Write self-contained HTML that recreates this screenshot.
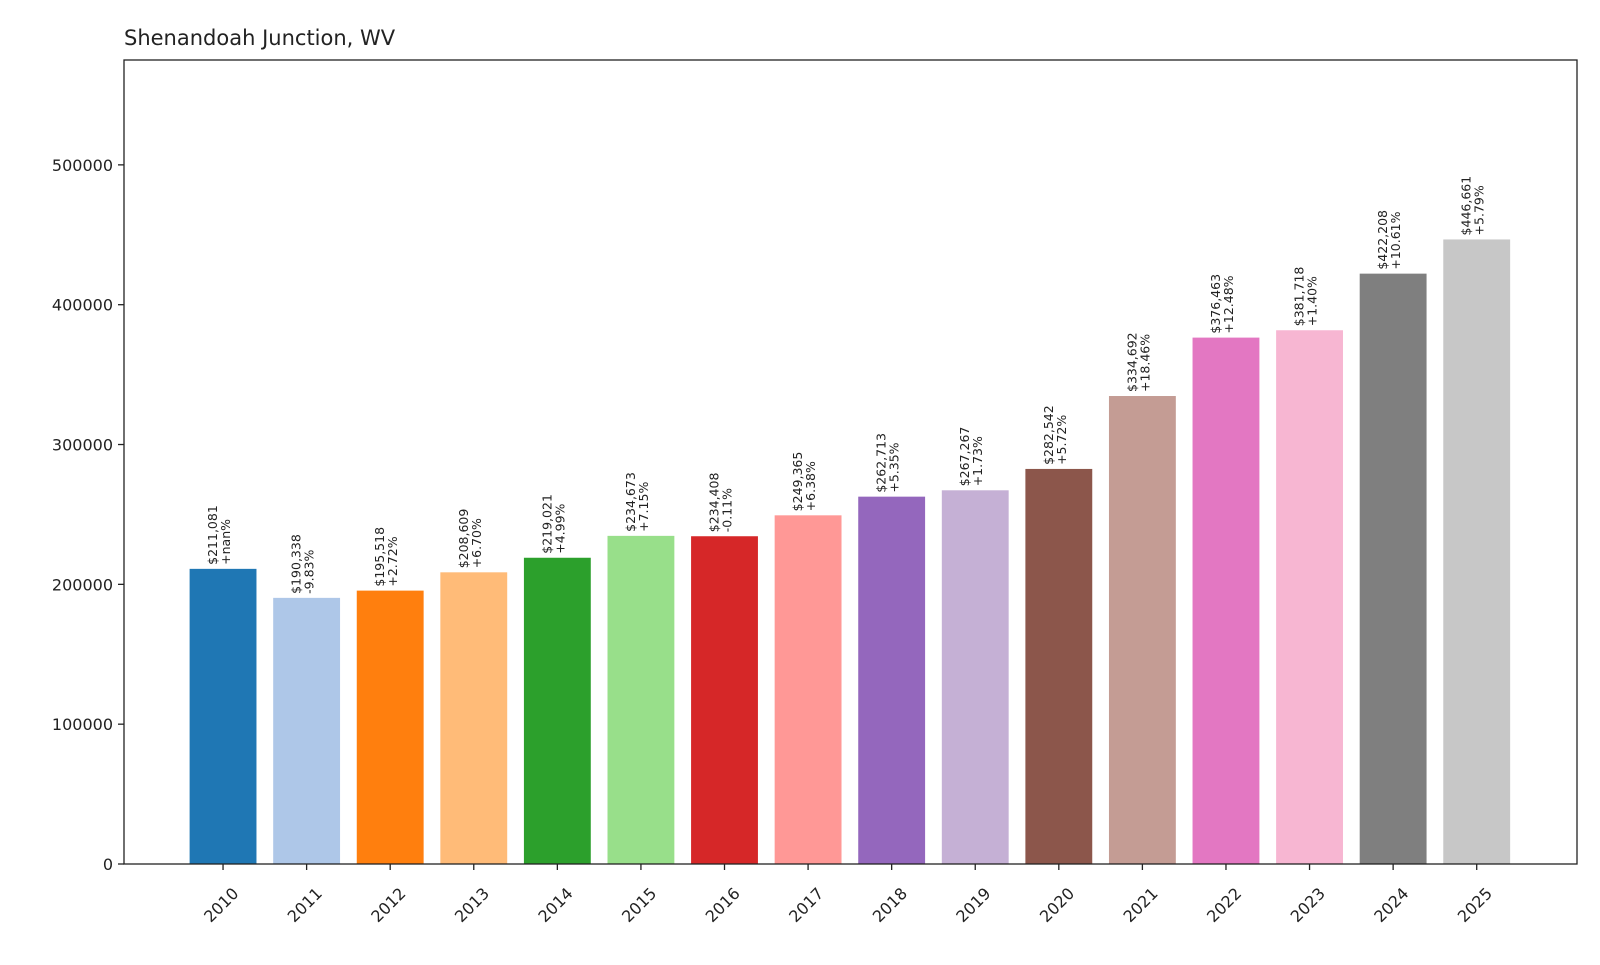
<!DOCTYPE html>
<html><head><meta charset="utf-8"><style>
body{margin:0;background:#fff;}
svg text{font-family:"DejaVu Sans","Liberation Sans",sans-serif;fill:#222;}
</style></head><body>
<svg id="chart" width="1600" height="960" xmlns="http://www.w3.org/2000/svg">
<rect width="1600" height="960" fill="#fff"/>
<text x="124" y="45" font-size="21">Shenandoah Junction, WV</text>
<g id="bars"></g>
<g id="axes"></g>
</svg>
<script>
const years=["2010","2011","2012","2013","2014","2015","2016","2017","2018","2019","2020","2021","2022","2023","2024","2025"];
const values=[211081,190338,195518,208609,219021,234673,234408,249365,262713,267267,282542,334692,376463,381718,422208,446661];
const changes=["+nan%","-9.83%","+2.72%","+6.70%","+4.99%","+7.15%","-0.11%","+6.38%","+5.35%","+1.73%","+5.72%","+18.46%","+12.48%","+1.40%","+10.61%","+5.79%"];
const yTicks=[0,100000,200000,300000,400000,500000];
const colors=["#1f77b4","#aec7e8","#ff7f0e","#ffbb78","#2ca02c","#98df8a","#d62728","#ff9896","#9467bd","#c5b0d5","#8c564b","#c49c94","#e377c2","#f7b6d2","#7f7f7f","#c7c7c7"];
const L=124,R=1577,T=60,B=864,yMax=575000,xMin=-1.185,xMax=16.2;
const xs=i=>L+(i-xMin)/(xMax-xMin)*(R-L);
const ys=v=>B-v/yMax*(B-T);
const NS="http://www.w3.org/2000/svg";
const bars=document.getElementById('bars'),axes=document.getElementById('axes');
function mk(tag,attrs,parent,txt){const e=document.createElementNS(NS,tag);for(const k in attrs)e.setAttribute(k,attrs[k]);if(txt!==undefined)e.textContent=txt;parent.appendChild(e);return e;}
const bw=0.8*(xs(1)-xs(0));
values.forEach((v,i)=>{
  const cx=xs(i);
  const r=mk('rect',{x:cx-bw/2,y:ys(v),width:bw,height:B-ys(v),fill:colors[i]},bars);
  
  
  const t=mk('text',{transform:`translate(${cx},${ys(v)-4}) rotate(-90)`,'font-size':'12.5'},bars);
  
  
  mk('tspan',{x:0,dy:-6},t,'$'+v.toLocaleString('en-US'));
  mk('tspan',{x:0,dy:13},t,changes[i]);
  const tk=mk('line',{x1:cx,x2:cx,y1:B,y2:B+6,stroke:'#222','stroke-width':1.3},axes);
  
  
  const xl=mk('text',{transform:`translate(${cx+8},${B+22}) rotate(-45)`,'font-size':'16','text-anchor':'end','dominant-baseline':'hanging'},axes,years[i]);
  
  
});
yTicks.forEach(v=>{
  const y=ys(v);
  const tk=mk('line',{x1:L-6,x2:L,y1:y,y2:y,stroke:'#222','stroke-width':1.3},axes);
  
  
  const tl=mk('text',{x:L-11,y:y+6,'font-size':'16','text-anchor':'end'},axes,String(v));
  
  
});
const fr=mk('rect',{x:L,y:T,width:R-L,height:B-T,fill:'none',stroke:'#222','stroke-width':1.3},axes);


</script>
</body></html>
